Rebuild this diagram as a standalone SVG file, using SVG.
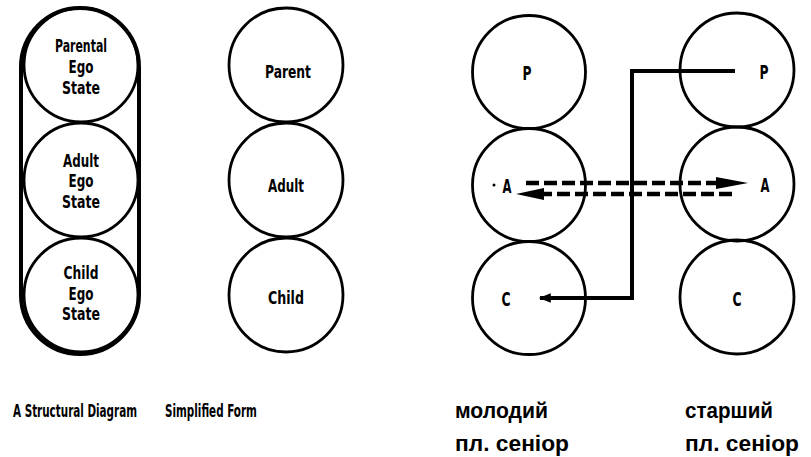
<svg xmlns="http://www.w3.org/2000/svg" width="811" height="457" viewBox="0 0 811 457">
<style>
.c{fill:none;stroke:#000;stroke-width:2.8}
.t{font-family:"DejaVu Sans Condensed","Liberation Sans",sans-serif;font-weight:bold;fill:#000;text-anchor:middle}
.s{font-size:18px}
.l{font-size:18px}
.k{font-size:20px}
.cap{font-family:"DejaVu Sans Condensed","Liberation Sans",sans-serif;font-weight:bold;font-size:17px;fill:#000}
.u{font-family:"Liberation Sans",Arial,sans-serif;font-size:22px;font-weight:bold;fill:#000}
.arr{fill:none;stroke:#000;stroke-width:4}
.d{fill:none;stroke:#000;stroke-width:4.5;stroke-dasharray:13 5}
</style>
<defs>
<marker id="ah" viewBox="0 0 10 10" refX="9" refY="5" markerWidth="5" markerHeight="3" orient="auto" markerUnits="strokeWidth">
<path d="M0,1 L10,5 L0,9 Z" fill="#000"/>
</marker>
</defs>
<rect width="811" height="457" fill="#fff"/>

<g id="structural">
<rect x="21" y="8" width="118" height="346" rx="59" ry="59" fill="none" stroke="#000" stroke-width="4"/>
<g id="s-parent"><circle class="c" cx="81" cy="65" r="57"/>
<text class="t s" x="81" y="52" textLength="52" lengthAdjust="spacingAndGlyphs">Parental</text><text class="t s" x="81" y="73" textLength="25" lengthAdjust="spacingAndGlyphs">Ego</text><text class="t s" x="81" y="94" textLength="38" lengthAdjust="spacingAndGlyphs">State</text></g>
<g id="s-adult"><circle class="c" cx="81" cy="180" r="57"/>
<text class="t s" x="81" y="167" textLength="36" lengthAdjust="spacingAndGlyphs">Adult</text><text class="t s" x="81" y="187" textLength="25" lengthAdjust="spacingAndGlyphs">Ego</text><text class="t s" x="81" y="208" textLength="38" lengthAdjust="spacingAndGlyphs">State</text></g>
<g id="s-child"><circle class="c" cx="81" cy="295" r="57"/>
<text class="t s" x="81" y="279" textLength="35" lengthAdjust="spacingAndGlyphs">Child</text><text class="t s" x="81" y="300" textLength="25" lengthAdjust="spacingAndGlyphs">Ego</text><text class="t s" x="81" y="320" textLength="38" lengthAdjust="spacingAndGlyphs">State</text></g>
</g>

<g id="simplified">
<g id="f-parent"><circle class="c" cx="286" cy="65" r="57"/><text class="t l" x="288" y="78" textLength="46" lengthAdjust="spacingAndGlyphs">Parent</text></g>
<g id="f-adult"><circle class="c" cx="286" cy="180" r="57"/><text class="t l" x="286" y="192" textLength="36" lengthAdjust="spacingAndGlyphs">Adult</text></g>
<g id="f-child"><circle class="c" cx="286" cy="295" r="57"/><text class="t l" x="286" y="304" textLength="36" lengthAdjust="spacingAndGlyphs">Child</text></g>
</g>

<g id="young">
<g id="y-p"><circle class="c" cx="529" cy="72" r="56.5"/><text class="t k" x="527" y="80" textLength="9" lengthAdjust="spacingAndGlyphs">P</text></g>
<g id="y-a"><circle class="c" cx="529" cy="185" r="56.5"/><circle cx="494" cy="185" r="1.5" fill="#000"/><text class="t k" x="507" y="193" textLength="9" lengthAdjust="spacingAndGlyphs">A</text></g>
<g id="y-c"><circle class="c" cx="529" cy="298" r="56.5"/><text class="t k" x="506" y="306" textLength="9" lengthAdjust="spacingAndGlyphs">C</text></g>
</g>

<g id="old">
<g id="o-p"><circle class="c" cx="737" cy="70" r="57"/><text class="t k" x="764" y="79" textLength="9" lengthAdjust="spacingAndGlyphs">P</text></g>
<g id="o-a"><circle class="c" cx="737" cy="184" r="57"/><text class="t k" x="765" y="192" textLength="9" lengthAdjust="spacingAndGlyphs">A</text></g>
<g id="o-c"><circle class="c" cx="737" cy="297" r="57"/><text class="t k" x="737" y="306" textLength="9" lengthAdjust="spacingAndGlyphs">C</text></g>
</g>

<g id="connectors">
<path class="arr" d="M735,71 H632 V298 H540" marker-end="url(#ah)"/>
<path class="d" d="M526,183 H725"/>
<path d="M716,177 L748,183 L716,189 Z" fill="#000"/>
<path class="d" d="M732,194 H535"/>
<path d="M544,188 L516,194 L544,200 Z" fill="#000"/>
</g>

<g id="labels">
<text class="cap" transform="translate(13,417) scale(0.68,1)" x="0" y="0">A Structural Diagram</text>
<text class="cap" transform="translate(165,417) scale(0.68,1)" x="0" y="0">Simplified Form</text>
<text class="u" x="455" y="418" textLength="93" lengthAdjust="spacingAndGlyphs">молодий</text>
<text class="u" x="455" y="451" textLength="114" lengthAdjust="spacingAndGlyphs">пл. сеніор</text>
<text class="u" x="685" y="418" textLength="88" lengthAdjust="spacingAndGlyphs">старший</text>
<text class="u" x="685" y="451" textLength="114" lengthAdjust="spacingAndGlyphs">пл. сеніор</text>
</g>
</svg>
